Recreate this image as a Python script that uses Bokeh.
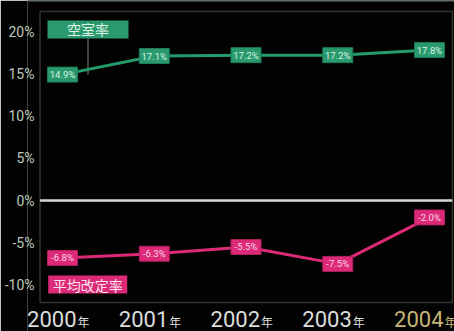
from bokeh.plotting import figure
from bokeh.models import Range1d, Span, BoxAnnotation, FixedTicker, ColumnDataSource
from bokeh.core.properties import value
from bokeh.embed import file_html
from bokeh.resources import INLINE

years = ["2000", "2001", "2002", "2003", "2004"]
year_suffix = "年"
vacancy = [14.9, 17.1, 17.2, 17.2, 17.8]
revision = [-6.8, -6.3, -5.5, -7.5, -2.0]
yticks = [20, 15, 10, 5, 0, -5, -10]
vacancy_name = "空室率"
revision_name = "平均改定率"

FONT = "Roboto"
CJK = "Noto Sans CJK JP"
GREEN = "#239c6c"
GREEN_BOX = "#2a9a6e"
PINK = "#dc2a78"
BG = "#020202"

xs = list(range(len(years)))

# chart box limits (data units)
BOX_L, BOX_R, BOX_B, BOX_T = -0.245, 4.25, -12.07, 22.37

# frame spans nearly the whole canvas; the visible chart box is drawn as an annotation
p = figure(width=454, height=331, output_backend="svg", toolbar_location=None,
           x_range=Range1d(-0.3815, 4.2725), y_range=Range1d(-15.50, 23.669),
           min_border_left=27, min_border_right=0, min_border_top=0, min_border_bottom=0)
p.background_fill_color = BG
p.border_fill_color = BG
p.outline_line_color = None
p.grid.visible = False
p.xaxis.visible = False

ya = p.yaxis[0]
ya.ticker = FixedTicker(ticks=yticks)
ya.major_label_overrides = {t: f"{t}%" for t in yticks}
ya.axis_line_color = None
ya.major_tick_line_color = None
ya.minor_tick_line_color = None
ya.major_label_standoff = -13
ya.major_label_text_font = FONT
ya.major_label_text_font_size = "14px"
ya.major_label_text_color = "#bccabc"

p.add_layout(Span(location=23.6, dimension="width", line_color="#3c4c44", line_width=1.5))
p.add_layout(BoxAnnotation(left=BOX_L, right=BOX_R, bottom=BOX_B, top=BOX_T,
                           fill_color=None, line_color="#9aa49c", line_width=1.5))
p.segment(x0=[BOX_L], y0=[0], x1=[BOX_R], y1=[0], line_color="#d4dcd4", line_width=2.5)

src_v = ColumnDataSource(dict(x=xs, y=vacancy, t=[f"{v:.1f}%" for v in vacancy]))
src_r = ColumnDataSource(dict(x=xs, y=revision, t=[f"{v:.1f}%" for v in revision]))

# connector from legend box to first vacancy label
p.segment(x0=[0.278], y0=[vacancy[0]], x1=[0.278], y1=[20.24], line_color="#7a8a80", line_width=1)

p.line("x", "y", source=src_v, line_color=GREEN, line_width=3)
p.line("x", "y", source=src_r, line_color=PINK, line_width=3)

p.rect("x", "y", width=30, height=15, width_units="screen", height_units="screen",
       source=src_v, fill_color=GREEN_BOX, line_color="#1f7a56", line_width=1)
p.text("x", "y", text="t", source=src_v, text_align="center", text_baseline="middle",
       text_font=value(FONT), text_font_size="9.5px", text_color="#d8f4e6")
p.rect("x", "y", width=30, height=15, width_units="screen", height_units="screen",
       source=src_r, fill_color=PINK, line_color="#b01e5e", line_width=1)
p.text("x", "y", text="t", source=src_r, text_align="center", text_baseline="middle",
       text_font=value(FONT), text_font_size="9.5px", text_color="#fbd6e6")

# legend boxes
p.rect(x=[0.278], y=[20.24], width=81, height=18, width_units="screen", height_units="screen",
       fill_color=GREEN_BOX, line_color=None)
p.text(x=[0.278], y=[20.24], text=[vacancy_name], text_align="center", text_baseline="middle",
       text_font=value(CJK), text_font_size="14px", text_color="#e0f6ea")
p.rect(x=[0.275], y=[-9.94], width=79, height=18, width_units="screen", height_units="screen",
       fill_color=PINK, line_color=None)
p.text(x=[0.275], y=[-9.94], text=[revision_name], text_align="center", text_baseline="middle",
       text_font=value(CJK), text_font_size="14px", text_color="#fde4ee")

# year labels below the chart box
ycol = ["#dcdedc"] * (len(years) - 1) + ["#c6b577"]
src_y = ColumnDataSource(dict(x=xs, y=[-13.02] * len(years), t=years,
                              s=[year_suffix] * len(years), c=ycol))
p.text("x", "y", text="t", source=src_y, text_align="right", text_baseline="top",
       x_offset=14, text_font=value(FONT), text_font_size="22px", text_color="c")
p.text("x", "y", text="s", source=src_y, text_align="left", text_baseline="top",
       x_offset=15, y_offset=2, text_font=value(CJK), text_font_size="12px", text_color="c")

open("out.html", "w").write(file_html(p, INLINE))
